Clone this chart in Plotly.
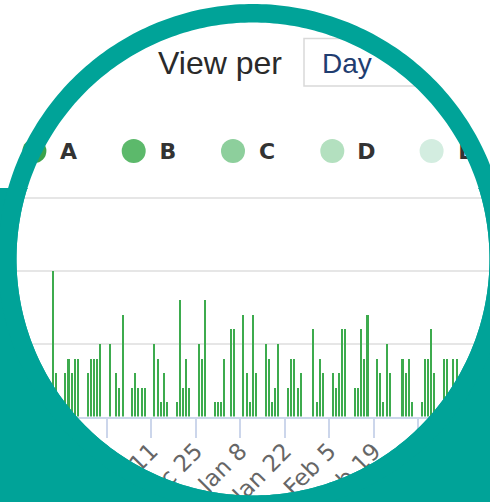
import numpy as np
import pandas as pd
import plotly.graph_objects as go

# ---------------- data ----------------
dates = [
    "2017-11-10", "2017-11-11", "2017-11-14", "2017-11-15", "2017-11-16", "2017-11-17",
    "2017-11-18", "2017-11-21", "2017-11-22", "2017-11-23", "2017-11-24", "2017-11-25",
    "2017-11-28", "2017-11-30", "2017-12-01", "2017-12-02", "2017-12-05", "2017-12-06",
    "2017-12-07", "2017-12-08", "2017-12-09", "2017-12-12", "2017-12-13", "2017-12-14",
    "2017-12-15", "2017-12-16", "2017-12-19", "2017-12-20", "2017-12-21", "2017-12-22",
    "2017-12-23", "2017-12-26", "2017-12-27", "2017-12-28", "2017-12-31", "2018-01-01",
    "2018-01-02", "2018-01-03", "2018-01-05", "2018-01-06", "2018-01-09", "2018-01-10",
    "2018-01-11", "2018-01-12", "2018-01-13", "2018-01-16", "2018-01-17", "2018-01-18",
    "2018-01-19", "2018-01-20", "2018-01-23", "2018-01-24", "2018-01-25", "2018-01-26",
    "2018-01-27", "2018-01-31", "2018-02-01", "2018-02-02", "2018-02-03", "2018-02-06",
    "2018-02-07", "2018-02-08", "2018-02-09", "2018-02-10", "2018-02-13", "2018-02-14",
    "2018-02-15", "2018-02-16", "2018-02-17", "2018-02-20", "2018-02-21", "2018-02-22",
    "2018-02-23", "2018-02-24", "2018-02-28", "2018-03-01", "2018-03-02", "2018-03-03",
    "2018-03-06", "2018-03-07", "2018-03-08", "2018-03-09", "2018-03-10", "2018-03-13",
    "2018-03-14", "2018-03-16", "2018-03-17",
]
counts = [
    10, 3, 3, 4, 3, 4,
    4, 3, 4, 4, 4, 5,
    5, 3, 2, 7, 2, 3,
    2, 2, 2, 5, 4, 1,
    3, 1, 1, 8, 2, 4,
    2, 5, 4, 8, 1, 1,
    1, 4, 6, 6, 7, 3,
    1, 7, 3, 5, 4, 1,
    2, 5, 2, 4, 4, 2,
    3, 6, 1, 4, 3, 3,
    2, 3, 6, 6, 2, 2,
    6, 4, 7, 4, 3, 1,
    5, 3, 4, 3, 4, 1,
    1, 4, 4, 6, 3, 4,
    4, 4, 4,
]
series_names = ["A", "B", "C", "D", "E"]
series_colors = ["#3aa34c", "#5cb96b", "#8dcf9c", "#b3e0bf", "#d3ede0"]
y_ticks = [0, 5, 10, 15]
view_label = "View per"
view_value = "Day"

# ---------------- layout constants (pixels) ----------------
W, H = 490, 502
TEAL = "#00a398"
BAR_COLOR = "#3dab4e"
ref_date = pd.Timestamp("2017-12-11")
ref_px = 151.2          # pixel x of the reference tick
px_per_day = 3.181
base_px = 416.5         # pixel y of value 0
top_px = 198.0          # pixel y of value 15
px_per_unit = (base_px - top_px) / 15.0
y_max = 15.3


def fmt(ts):
    return ts.strftime("%Y-%m-%d %H:%M:%S")


x_start = fmt(ref_date + pd.Timedelta(days=(0 - ref_px) / px_per_day))
x_end = fmt(ref_date + pd.Timedelta(days=(W - ref_px) / px_per_day))
y_dom_bottom = 1 - base_px / H
y_dom_top = 1 - (base_px - y_max * px_per_unit) / H

cx, cy = 253.0, 259.0
r_in, r_out = 236.5, 255.0
rect_top = 188.0

leg_x0, leg_dx, leg_y = 34.4, 99.3, 151.0
lab_x0, lab_y = 68.5, 153.0


def to_paper(x, y):
    return x / W, 1 - y / H


def circle_pts(r, n=360, y_min=None):
    t = np.linspace(0, 2 * np.pi, n, endpoint=False)
    xs = cx + r * np.cos(t)
    ys = cy + r * np.sin(t)
    if y_min is not None:
        ys = np.maximum(ys, y_min)
    pts = [to_paper(x, y) for x, y in zip(xs, ys)]
    return "M " + " L ".join(f"{x:.5f},{y:.5f}" for x, y in pts) + " Z"


def p(x, y):
    a, b = to_paper(x, y)
    return f"{a:.5f},{b:.5f}"


# "Day" selector box, clipped at the window edge
box_l, box_t, box_b = 304.0, 38.5, 86.0
top_end = cx + np.sqrt(r_in ** 2 - (cy - box_t) ** 2) + 3
bot_end = cx + np.sqrt(r_in ** 2 - (cy - box_b) ** 2) + 3
box_path = (f"M {p(top_end, box_t)} L {p(box_l, box_t)} "
            f"L {p(box_l, box_b)} L {p(bot_end, box_b)}")

fig = go.Figure()

fig.add_trace(go.Bar(
    x=dates, y=counts,
    width=0.64 * 86400000,
    marker=dict(color=BAR_COLOR, line=dict(width=0)),
    xaxis="x", yaxis="y", showlegend=False, hoverinfo="skip",
))

fig.add_trace(go.Scatter(
    x=[leg_x0 + i * leg_dx for i in range(len(series_names))],
    y=[leg_y] * len(series_names),
    mode="markers",
    marker=dict(size=24, color=series_colors, line=dict(width=0)),
    xaxis="x2", yaxis="y2", showlegend=False, hoverinfo="skip",
))
fig.add_trace(go.Scatter(
    x=[lab_x0 + i * leg_dx for i in range(len(series_names))],
    y=[lab_y] * len(series_names),
    mode="text", text=series_names, textposition="middle center",
    textfont=dict(family="DejaVu Sans", size=22, color="#333333", weight="bold"),
    xaxis="x2", yaxis="y2", showlegend=False, hoverinfo="skip",
))

rect_path = (f"M {p(-10, rect_top)} L {p(W + 10, rect_top)} L {p(W + 10, H + 10)} "
             f"L {p(-10, H + 10)} Z ")

shapes = [
    dict(type="path", xref="paper", yref="paper", layer="above",
         path=box_path, line=dict(color="#d9d9d9", width=1.5)),
    dict(type="path", xref="paper", yref="paper", layer="above", fillrule="evenodd",
         path=rect_path + circle_pts(r_in, y_min=rect_top),
         fillcolor=TEAL, line=dict(width=0)),
    dict(type="path", xref="paper", yref="paper", layer="above", fillrule="evenodd",
         path=circle_pts(r_out) + " " + circle_pts(r_in),
         fillcolor=TEAL, line=dict(width=0)),
]

fig.update_layout(
    width=W, height=H, autosize=False,
    margin=dict(l=0, r=0, t=0, b=0, pad=0),
    paper_bgcolor="white", plot_bgcolor="rgba(0,0,0,0)",
    showlegend=False,
    bargap=0,
    xaxis=dict(
        type="date", domain=[0, 1], anchor="y", automargin=False,
        range=[x_start, x_end],
        tick0="2017-11-27", dtick=14 * 86400000, tickformat="%b %-d",
        tickangle=-45, ticks="outside", ticklen=19, tickwidth=2, tickcolor="#ccd6eb",
        ticklabelstandoff=-9,
        showline=True, linecolor="#ccd6eb", linewidth=2,
        showgrid=False, zeroline=False,
        tickfont=dict(family="DejaVu Sans", size=23, color="#666666"),
    ),
    yaxis=dict(
        domain=[y_dom_bottom, y_dom_top], anchor="x", automargin=False,
        range=[0, y_max], tickvals=y_ticks, showticklabels=False,
        showgrid=True, gridcolor="#e6e6e6", gridwidth=2, zeroline=False,
    ),
    xaxis2=dict(domain=[0, 1], range=[0, W], visible=False, anchor="y2", automargin=False),
    yaxis2=dict(domain=[0, 1], range=[H, 0], visible=False, anchor="x2", automargin=False),
    shapes=shapes,
    annotations=[
        dict(xref="x2", yref="y2", x=156, y=63, text=view_label, showarrow=False,
             xanchor="left", yanchor="middle",
             font=dict(family="Liberation Sans", size=32, color="#2a2a2a")),
        dict(xref="x2", yref="y2", x=320, y=63, text=view_value, showarrow=False,
             xanchor="left", yanchor="middle",
             font=dict(family="Liberation Sans", size=28, color="#1f3d70")),
    ],
)

fig.write_html(
    "out.html",
    config={"displayModeBar": False},
    post_script="document.body.style.margin='0';document.body.style.overflow='hidden';",
)
